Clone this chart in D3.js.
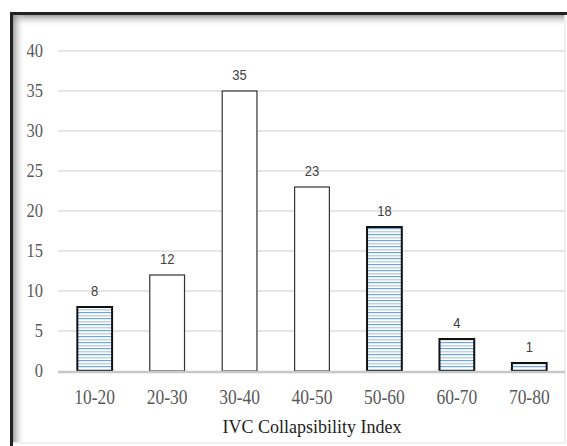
<!DOCTYPE html>
<html><head><meta charset="utf-8">
<script src="https://cdn.jsdelivr.net/npm/d3@7"></script>
<style>body{margin:0;background:#fff}svg{display:block}</style>
</head><body>
<script>
const categories = ["10-20","20-30","30-40","40-50","50-60","60-70","70-80"];
const values = [8,12,35,23,18,4,1];
const patterned = [true,false,false,false,true,true,true];
const yTicks = [0,5,10,15,20,25,30,35,40];
const xTitle = "IVC Collapsibility Index";

const W=567,H=446;
const svg=d3.select("body").append("svg").attr("width",W).attr("height",H);
const defs=svg.append("defs");
const gTop=defs.append("linearGradient").attr("id","gt").attr("x1",0).attr("y1",0).attr("x2",0).attr("y2",1);
gTop.append("stop").attr("offset",0).attr("stop-color","#888").attr("stop-opacity",0.8);
gTop.append("stop").attr("offset",1).attr("stop-color","#fff").attr("stop-opacity",0);
const gLeft=defs.append("linearGradient").attr("id","gl").attr("x1",0).attr("y1",0).attr("x2",1).attr("y2",0);
gLeft.append("stop").attr("offset",0).attr("stop-color","#888").attr("stop-opacity",0.8);
gLeft.append("stop").attr("offset",1).attr("stop-color","#fff").attr("stop-opacity",0);
const pat=defs.append("pattern").attr("id","stripes").attr("patternUnits","userSpaceOnUse").attr("width",8).attr("height",6);
pat.append("rect").attr("width",8).attr("height",6).attr("fill","#fff");
pat.append("rect").attr("y",0).attr("width",8).attr("height",1.2).attr("fill","#6fa5dc");
pat.append("rect").attr("y",3).attr("width",8).attr("height",1.5).attr("fill","#b9d3ef");

// frame
svg.append("rect").attr("x",13).attr("y",15).attr("width",552).attr("height",12).attr("fill","url(#gt)");
svg.append("rect").attr("x",13).attr("y",15).attr("width",12).attr("height",428).attr("fill","url(#gl)");
svg.append("rect").attr("x",10).attr("y",12).attr("width",557).attr("height",3).attr("fill","#222");
svg.append("rect").attr("x",10).attr("y",12).attr("width",3).attr("height",434).attr("fill","#222");
svg.append("rect").attr("x",564).attr("y",15).attr("width",2).attr("height",428).attr("fill","#f0f0f0");
svg.append("rect").attr("x",13).attr("y",442).attr("width",553).attr("height",2).attr("fill","#f0f0f0");

const x=d3.scaleBand().domain(categories).range([58.5,565.5]).paddingInner(0.52).paddingOuter(0.26);
const y=d3.scaleLinear().domain([0,40]).range([371,51]);
const serif="Liberation Serif, Times New Roman, serif";

svg.append("g").selectAll("line").data(yTicks.filter(d=>d>0)).join("line")
 .attr("x1",58).attr("x2",565).attr("y1",d=>y(d)).attr("y2",d=>y(d))
 .attr("stroke","#dedede").attr("stroke-width",1.3);

svg.append("g").selectAll("text").data(yTicks).join("text")
 .attr("transform",d=>`translate(43,${y(d)+5.5}) scale(1,1.12)`).attr("text-anchor","end")
 .attr("font-family",serif).attr("font-size",16.5).attr("fill","#595959")
 .text(d=>d);

svg.append("g").selectAll("rect").data(categories).join("rect")
 .attr("x",d=>x(d)).attr("width",x.bandwidth())
 .attr("y",(d,i)=>y(values[i])).attr("height",(d,i)=>y(0)-y(values[i]))
 .attr("fill",(d,i)=>patterned[i]?"url(#stripes)":"#fff")
 .attr("stroke",(d,i)=>patterned[i]?"#111":"#333")
 .attr("stroke-width",(d,i)=>patterned[i]?2:1.2);

svg.append("line").attr("x1",58).attr("x2",565).attr("y1",372).attr("y2",372).attr("stroke","#c8c8c8").attr("stroke-width",2.5);

svg.append("g").selectAll("text").data(categories).join("text")
 .attr("transform",(d,i)=>`translate(${x(d)+x.bandwidth()/2},${y(values[i])-11}) scale(1,1.1)`)
 .attr("text-anchor","middle").attr("font-family","Liberation Sans, Arial, sans-serif").attr("font-size",13).attr("fill","#404040")
 .text((d,i)=>values[i]);

svg.append("g").selectAll("text").data(categories).join("text")
 .attr("transform",d=>`translate(${x(d)+x.bandwidth()/2},404) scale(1,1.18)`)
 .attr("text-anchor","middle").attr("font-family",serif).attr("font-size",17.5).attr("fill","#595959")
 .text(d=>d);

svg.append("text").attr("transform","translate(312,433) scale(1,1.1)").attr("text-anchor","middle")
 .attr("font-family",serif).attr("font-size",18).attr("fill","#222")
 .text(xTitle);
</script>
</body></html>
